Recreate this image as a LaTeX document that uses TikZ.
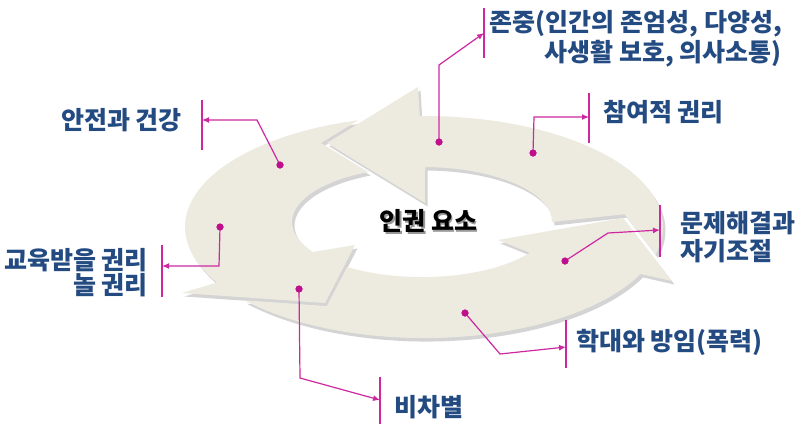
\documentclass[tikz,border=0pt]{standalone}
\usepackage{fontspec}
\newfontfamily\kr{Noto Sans CJK KR}
\usetikzlibrary{arrows.meta}
\definecolor{beige}{RGB}{237,235,224}
\definecolor{shade}{RGB}{212,212,212}
\definecolor{lblue}{RGB}{35,75,130}
\definecolor{mline}{RGB}{205,40,160}
\definecolor{mdot}{RGB}{190,15,140}
\tikzset{
  arrowA/.style={insert path={(552,222) -- (624.5,214.2) -- (655.5,254.5)
     arc[start angle=14.35, end angle=-91, x radius=239, y radius=111]
     -- (418,87) -- (327,143) -- (425,203) -- (425,167)
     arc[start angle=-88.7, end angle=0, x radius=130, y radius=55] -- cycle}},
  arrowB/.style={insert path={(358.1,120.3)
     arc[start angle=-106, end angle=-210, x radius=239, y radius=111]
     -- (182,293) -- (325,303) -- (355,245) -- (313,252)
     arc[start angle=-213, end angle=-114.5, x radius=130, y radius=55]
     -- (321,143) -- cycle}},
  arrowC/.style={insert path={(244.4,300.3)
     arc[start angle=-221.3, end angle=-335, x radius=239, y radius=111]
     -- (672,281) -- (623,218) -- (498,240) -- (529.8,252.8)
     arc[start angle=-326, end angle=-234.8, x radius=130, y radius=55]
     -- (326.8,306.1) -- cycle}},
  ringshadow/.style={fill=shade, shift={(2.5,3.5)}},
  ringfill/.style={fill=beige},
  conn/.style={draw=mline, line width=1.2pt, -{Latex[length=7pt,width=6pt]}},
  bar/.style={draw=mline, line width=1.2pt},
  dot/.style={circle, fill=mdot, inner sep=0pt, minimum size=7pt},
  lbl/.style={text=lblue, inner sep=0pt},
  kfont/.style={font=\kr\bfseries\fontsize{25}{#1}\selectfont},
}
\begin{document}
\begin{tikzpicture}[x=1pt,y=-1pt]
\useasboundingbox[fill=white] (0,0) rectangle (800,424);
% shadows
\fill[ringshadow, arrowC];
\fill[ringshadow, arrowB];
\fill[ringshadow, arrowA];
% arrows
\fill[ringfill, arrowC];
\fill[ringfill, arrowB];
\fill[ringfill, arrowA];
% centre text
\node[kfont=30, text=black!40, inner sep=0pt] (cs) at (430,222.5) {인권 요소};
\node[kfont=30, text=black, inner sep=0pt] (c) at (428.5,221) {인권 요소};
% labels
\node[lbl, kfont=30, align=right, anchor=base east] (l1) at (782,61) {존중(인간의 존엄성, 다양성,\\사생활 보호, 의사소통)};
\node[lbl, kfont=30, anchor=base west] (l2) at (603,121) {참여적 권리};
\node[lbl, kfont=30, anchor=base east] (l3) at (182,129) {안전과 건강};
\node[lbl, kfont=25, align=right, anchor=base east] (l4) at (148,294) {교육받을 권리\\놀 권리};
\node[lbl, kfont=30, anchor=base west] (l5) at (394,416) {비차별};
\node[lbl, kfont=30, anchor=base west] (l6) at (576,350) {학대와 방임(폭력)};
\node[lbl, kfont=28, align=left, anchor=base west] (l7) at (680,260) {문제해결과\\자기조절};
% dots
\node[dot] (d1) at (439,142) {};
\node[dot] (d2) at (533,153) {};
\node[dot] (d3) at (280,165) {};
\node[dot] (d4) at (220,227) {};
\node[dot] (d5) at (299,289) {};
\node[dot] (d6) at (465,313) {};
\node[dot] (d7) at (565,261) {};
% bars and bends
\coordinate (b1t) at (484,8);   \coordinate (b1b) at (484,58);  \coordinate (a1) at (484,33);  \coordinate (e1) at (439,65);
\coordinate (b2t) at (589,93);  \coordinate (b2b) at (589,143); \coordinate (a2) at (589,117); \coordinate (e2) at (534,117);
\coordinate (b3t) at (202,100); \coordinate (b3b) at (202,150); \coordinate (a3) at (202,120); \coordinate (e3) at (257,120);
\coordinate (b4t) at (162,245); \coordinate (b4b) at (162,297); \coordinate (a4) at (162,266); \coordinate (e4) at (219,266);
\coordinate (b5t) at (380,377); \coordinate (b5b) at (380,424); \coordinate (a5) at (380,400); \coordinate (e5) at (300,378);
\coordinate (b6t) at (566,320); \coordinate (b6b) at (566,368); \coordinate (a6) at (566,347); \coordinate (e6) at (500,354);
\coordinate (b7t) at (660,205); \coordinate (b7b) at (660,257); \coordinate (a7) at (660,230); \coordinate (e7) at (608,233);
\foreach \i in {1,...,7} {
  \draw[bar] (b\i t) -- (b\i b);
  \draw[conn] (d\i.center) -- (e\i) -- (a\i);
}
\foreach \i in {1,...,7} { \node[dot] at (d\i) {}; }
\end{tikzpicture}
\end{document}
